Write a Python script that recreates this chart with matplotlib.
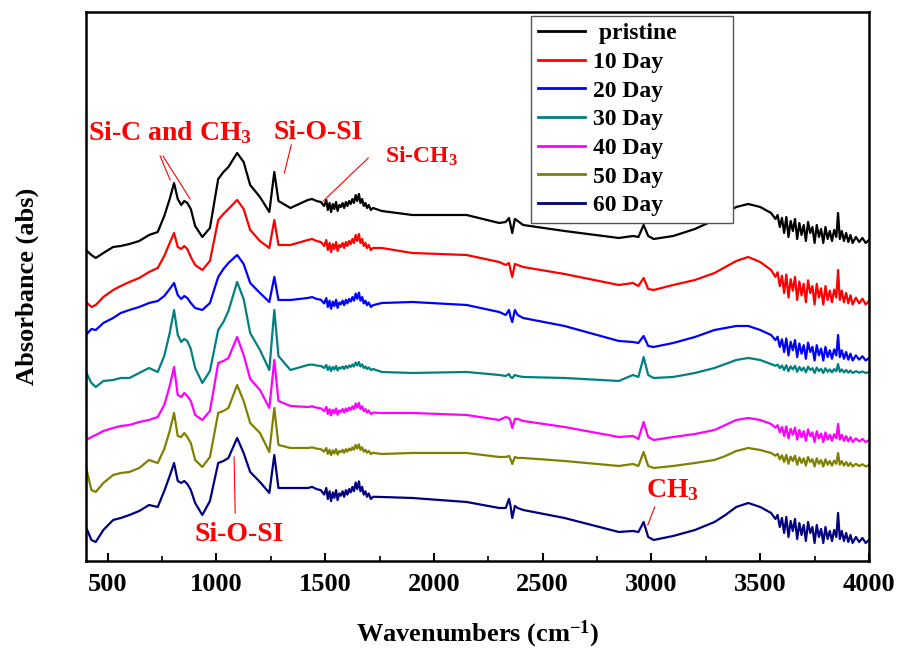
import numpy as np
import matplotlib
matplotlib.use('Agg')
import matplotlib.pyplot as plt

plt.rcParams['font.family'] = 'Liberation Serif'
plt.rcParams['font.weight'] = 'bold'
plt.rcParams['mathtext.fontset'] = 'custom'
plt.rcParams['mathtext.rm'] = 'Liberation Serif:bold'
plt.rcParams['mathtext.it'] = 'Liberation Serif:bold'
plt.rcParams['mathtext.bf'] = 'Liberation Serif:bold'

# wavenumber grids (cm-1), shared by all spectra
wn_lo = [400, 425, 445, 480, 525, 560, 600, 645, 690, 730, 760, 785, 805, 822,
         838, 852, 866, 882, 902, 935, 970, 1008, 1032, 1055, 1095, 1125, 1155,
         1200, 1243, 1266, 1285, 1340, 1420]
wn_mid = [1440, 1460, 1480, 1495, 1505, 1512, 1520, 1527, 1535, 1542, 1550, 1557,
          1565, 1572, 1580, 1587, 1595, 1602, 1610, 1617, 1625, 1632, 1640, 1647,
          1655, 1662, 1670, 1677, 1685, 1692, 1700, 1710, 1720]
wn_md = [1760, 1900, 2150, 2300, 2330, 2345, 2352, 2360, 2372, 2385, 2410, 2600,
         2850, 2915, 2940, 2964, 2985, 3010, 3100, 3200, 3290, 3340, 3390, 3445,
         3500, 3550]
wn_hi = [3560, 3570, 3580, 3590, 3600, 3610, 3620, 3630, 3640, 3650, 3660, 3670,
         3680, 3690, 3700, 3710, 3720, 3730, 3740, 3750, 3760, 3770, 3780, 3790,
         3800, 3810, 3820, 3830, 3840, 3850, 3858, 3866, 3875, 3885, 3895, 3905,
         3915, 3925, 3940, 3955, 3970, 3985, 4000]

# noisy band shapes (offsets from the value just before the band)
mid_shape = [1, -1, -2, -6, 0, -10, -3, -12, -4, -9, -2, -11, -5, -7, -3, -8, -2,
             -6, -1, -4, 1, -3, 5, -1, 6, -3, 1, -6, -3, -8, -5, -10, -8]
hi_shape = [-3, -6, -2, -14, -5, -20, -4, -24, -8, -18, -6, -26, -10, -22, -12,
            -28, -9, -20, -14, -30, -12, -24, -16, -30, -14, -26, -18, -28, -17,
            -24, 0, -26, -18, -28, -20, -29, -22, -30, -24, -29, -25, -30, -27]

labels = [' pristine', '10 Day', '20 Day', '30 Day', '40 Day', '50 Day', '60 Day']
colors = ['#000000', '#ff0000', '#0000ff', '#008080', '#ff00ff', '#808000', '#000080']

# absorbance (offset, arbitrary units) below 1420 cm-1
lo_vals = [
    [311, 306, 303, 308, 314, 315, 317, 320, 326, 329, 345, 362, 378, 362, 356, 360,
     358, 352, 335, 324, 333, 382, 389, 394, 408, 399, 376, 364, 349, 389, 360, 353, 361],
    [259, 254, 256, 264, 271, 275, 279, 283, 289, 293, 305, 318, 328, 314, 312, 315,
     312, 304, 296, 291, 300, 341, 347, 352, 361, 352, 331, 320, 313, 341, 316, 316, 321],
    [226, 232, 231, 238, 243, 248, 251, 254, 258, 260, 265, 272, 278, 266, 262, 265,
     263, 258, 253, 251, 258, 284, 292, 298, 306, 297, 278, 268, 259, 284, 261, 261, 263],
    [189, 178, 174, 180, 181, 183, 183, 188, 193, 189, 205, 228, 251, 226, 219, 222,
     220, 212, 193, 178, 190, 231, 239, 250, 279, 262, 228, 211, 191, 251, 205, 191, 196],
    [121, 124, 126, 130, 133, 135, 136, 139, 141, 144, 156, 175, 194, 166, 164, 168,
     165, 160, 146, 141, 150, 198, 200, 203, 224, 206, 182, 171, 153, 201, 160, 155, 154],
    [94, 71, 69, 78, 86, 88, 89, 93, 101, 98, 112, 130, 148, 125, 124, 128,
     124, 118, 101, 94, 104, 148, 150, 153, 176, 160, 138, 128, 109, 153, 116, 113, 113],
    [34, 21, 19, 31, 41, 43, 46, 50, 56, 54, 70, 85, 98, 80, 78, 80,
     77, 71, 58, 46, 60, 98, 100, 103, 123, 108, 89, 79, 68, 106, 73, 73, 73],
]
# absorbance 1760-3550 cm-1
md_vals = [
    [350, 346, 346, 338, 339, 343, 336, 328, 342, 340, 336, 330, 323, 325, 324, 336,
     325, 322, 325, 332, 341, 348, 354, 357, 354, 348],
    [313, 308, 306, 299, 296, 298, 291, 284, 297, 296, 294, 287, 276, 278, 275, 283,
     272, 271, 276, 281, 288, 294, 300, 304, 299, 291],
    [258, 259, 256, 249, 246, 251, 244, 239, 251, 246, 243, 235, 220, 219, 218, 225,
     215, 214, 218, 224, 231, 233, 235, 235, 231, 226],
    [189, 188, 189, 186, 185, 187, 184, 183, 186, 185, 184, 183, 180, 186, 184, 204,
     186, 183, 184, 188, 193, 197, 201, 203, 201, 197],
    [148, 148, 146, 141, 144, 143, 140, 133, 142, 142, 140, 134, 124, 125, 122, 139,
     124, 121, 124, 127, 131, 136, 141, 143, 141, 137],
    [107, 108, 108, 104, 104, 105, 102, 97, 104, 103, 103, 100, 95, 97, 95, 109,
     95, 93, 95, 98, 101, 105, 110, 113, 111, 108],
    [64, 63, 59, 53, 53, 62, 55, 43, 55, 53, 51, 43, 29, 30, 29, 39,
     24, 21, 25, 31, 39, 46, 54, 58, 54, 48],
]
mid_amp = [1.0, 1.0, 0.9, 0.5, 0.7, 0.6, 1.1]
hi_amp = [1.0, 1.15, 0.85, 0.3, 0.6, 0.45, 1.0]

fig = plt.figure(figsize=(9.03, 6.52), dpi=100)
ax = fig.add_axes([0.0952, 0.1396, 0.8671, 0.842])

wn_all = wn_lo + wn_mid + wn_md + wn_hi
for i in range(len(labels)):
    lo = lo_vals[i]
    md = md_vals[i]
    y = (lo + [lo[-1] + mid_amp[i] * s for s in mid_shape]
         + md + [md[-1] + hi_amp[i] * s for s in hi_shape])
    ax.plot(wn_all, y, color=colors[i], lw=1.6, label=labels[i])

ax.set_xlim(400, 4000)
ax.set_ylim(0, 549)
ax.set_xticks([500, 1000, 1500, 2000, 2500, 3000, 3500, 4000])
ax.set_xticks([750, 1250, 1750, 2250, 2750, 3250, 3750], minor=True)
ax.set_yticks([])
ax.tick_params(axis='x', which='major', direction='in', length=6, width=1.5,
               labelsize=19, pad=9)
ax.tick_params(axis='x', which='minor', direction='in', length=3.5, width=1.2)
for sp in ax.spines.values():
    sp.set_linewidth(1.8)

ax.set_xlabel('Wavenumbers (cm$^{-1}$)', fontsize=19, fontweight='bold', labelpad=16)
ax.set_ylabel('Absorbance (abs)', fontsize=19, fontweight='bold', labelpad=34)

# peak labels
red = '#ff0000'
ax.text(409, 421, 'Si-C and CH$_3$', color=red, fontsize=20, va='baseline')
ax.text(1261, 422, 'Si-O-SI', color=red, fontsize=20, va='baseline')
ax.text(1777, 398, 'Si-CH$_3$', color=red, fontsize=17, va='baseline')
ax.text(897, 20, 'Si-O-SI', color=red, fontsize=20, va='baseline')
ax.text(2974, 64, 'CH$_3$', color=red, fontsize=20, va='baseline')
ax.plot([741, 787], [405, 381], color=red, lw=0.8)
ax.plot([754, 879], [405, 362], color=red, lw=0.8)
ax.plot([1344, 1312], [416, 388], color=red, lw=0.8)
ax.plot([1698, 1491], [403, 360], color=red, lw=0.8)
ax.plot([1081, 1086], [104, 48], color=red, lw=0.8)
ax.plot([3015, 2983], [54, 36], color=red, lw=0.8)

leg = ax.legend(loc='upper left', bbox_to_anchor=(0.568, 0.993, 0.259, 0.0),
                mode='expand', fontsize=17, handlelength=2.0, handletextpad=0.35,
                labelspacing=0.3, borderpad=0.3, borderaxespad=0.0,
                fancybox=False, framealpha=1, edgecolor='#555555')
leg.get_frame().set_linewidth(1.0)
for line in leg.get_lines():
    line.set_linewidth(2.0)

fig.savefig('out.png', dpi=100)
